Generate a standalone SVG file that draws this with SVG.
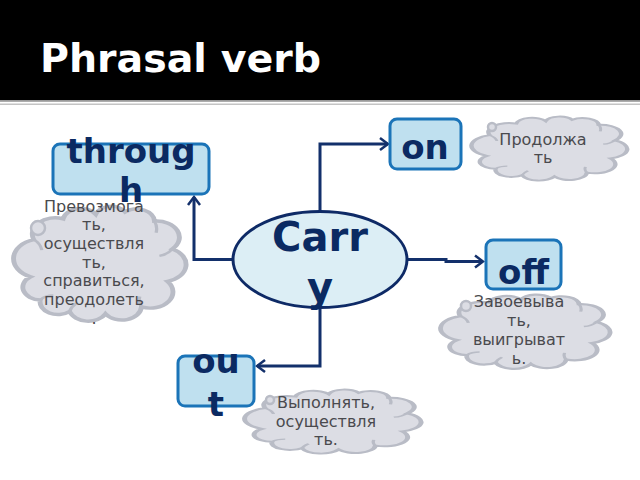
<svg xmlns="http://www.w3.org/2000/svg" width="640" height="480" viewBox="0 0 640 480">
<style>
.cloud{fill:#dcdde4;stroke:#b9bcc6;stroke-width:3;vector-effect:non-scaling-stroke}
.crease{fill:none;stroke:#b9bcc6;stroke-width:2;vector-effect:non-scaling-stroke}
.bub{fill:#dcdde4;stroke:#b9bcc6;stroke-width:2.5}
.ct{font-family:"DejaVu Sans",sans-serif;font-size:16px;fill:#4a4a4e;text-anchor:middle}
.box{fill:#bfe0ef;stroke:#1b74b8;stroke-width:3}
.bt{font-family:"DejaVu Sans",sans-serif;font-weight:bold;font-size:34px;fill:#0b2a62;text-anchor:middle}
.con{fill:none;stroke:#13306b;stroke-width:3}
</style>
<defs>
<path id="cl" d="M8,62 A17,17 0 0 1 10,30 A14,14 0 0 1 28,12 A11,11 0 0 1 48,8 A10,10 0 0 1 66,6 A11,11 0 0 1 84,14 A14,14 0 0 1 95,38 A15,15 0 0 1 92,66 A14,14 0 0 1 76,88 A12,12 0 0 1 54,94 A12,12 0 0 1 32,92 A11,11 0 0 1 14,82 A11,11 0 0 1 8,62 Z"/>
<path id="cr" d="M10,30 Q14,33 15,39 M84,14 Q86,19 85,24 M95,38 Q92,43 87,44 M76,88 Q74,84 75,79 M32,92 Q33,88 36,85 M14,82 Q17,78 22,78"/>
<marker id="arr" viewBox="-10 -8 12 16" refX="0" refY="0" markerWidth="12" markerHeight="16" markerUnits="userSpaceOnUse" orient="auto">
<path d="M-8,-6 L0,0 L-8,6" fill="none" stroke="#13306b" stroke-width="2.5"/>
</marker>
</defs>
<rect x="0" y="0" width="640" height="100" fill="#000"/>
<rect x="0" y="100" width="640" height="1.8" fill="#9a9a9a"/>
<rect x="0" y="103.5" width="640" height="1.5" fill="#c4c4c4"/>
<text x="40" y="72" font-family="DejaVu Sans, sans-serif" font-weight="bold" font-size="39.5" fill="#fff">Phrasal verb</text>

<g id="connectors">
<path class="con" d="M320,212 V144 H388" marker-end="url(#arr)"/>
<path class="con" d="M233,259.5 H194 V197" marker-end="url(#arr)"/>
<path class="con" d="M407,259.5 H446 V261.5 H483" marker-end="url(#arr)"/>
<path class="con" d="M320,307 V366 H257" marker-end="url(#arr)"/>
</g>

<g id="cloud-through">
<use href="#cl" class="cloud" transform="translate(17.4,204.9) scale(1.632,1.159)"/>
<use href="#cr" class="crease" transform="translate(17.4,204.9) scale(1.632,1.159)"/>
<circle class="bub" cx="38" cy="228" r="7"/>
<text class="ct"><tspan x="94" y="211.7">Превозмога</tspan><tspan x="94" y="230.4">ть,</tspan><tspan x="94" y="249">осуществля</tspan><tspan x="94" y="267.7">ть,</tspan><tspan x="94" y="286.4">справиться,</tspan><tspan x="94" y="305">преодолеть</tspan><tspan x="94" y="323.8">.</tspan></text>
</g>

<g id="cloud-on">
<use href="#cl" class="cloud" transform="translate(474.9,115.8) scale(1.474,0.646)"/>
<use href="#cr" class="crease" transform="translate(474.9,115.8) scale(1.474,0.646)"/>
<circle class="bub" cx="492" cy="127" r="4"/>
<text class="ct"><tspan x="543" y="145">Продолжа</tspan><tspan x="543" y="163">ть</tspan></text>
</g>

<g id="cloud-off">
<use href="#cl" class="cloud" transform="translate(444.3,293.65) scale(1.604,0.749)"/>
<use href="#cr" class="crease" transform="translate(444.3,293.65) scale(1.604,0.749)"/>
<circle class="bub" cx="466" cy="306" r="5"/>
<text class="ct"><tspan x="519" y="307">Завоевыва</tspan><tspan x="519" y="326">ть,</tspan><tspan x="519" y="345">выигрыват</tspan><tspan x="519" y="364">ь.</tspan></text>
</g>

<g id="cloud-out">
<use href="#cl" class="cloud" transform="translate(248.5,388.8) scale(1.670,0.646)"/>
<use href="#cr" class="crease" transform="translate(248.5,388.8) scale(1.670,0.646)"/>
<circle class="bub" cx="270" cy="400" r="4"/>
<text class="ct"><tspan x="326" y="408.3">Выполнять,</tspan><tspan x="326" y="426.7">осуществля</tspan><tspan x="326" y="445">ть.</tspan></text>
</g>

<g id="node-carry">
<ellipse cx="320" cy="259.5" rx="87" ry="48" fill="#dceef5" stroke="#0e2a66" stroke-width="3"/>
<text class="bt" style="font-size:40px"><tspan x="320" y="251">Carr</tspan><tspan x="320" y="301">y</tspan></text>
</g>

<g id="node-through">
<rect class="box" x="53" y="144" width="156" height="50" rx="7"/>
<text class="bt"><tspan x="131" y="163">throug</tspan><tspan x="131" y="202">h</tspan></text>
</g>

<g id="node-on">
<rect class="box" x="390" y="119" width="71" height="50" rx="7"/>
<text class="bt"><tspan x="425" y="158.5">on</tspan></text>
</g>

<g id="node-off">
<rect class="box" x="486" y="240" width="75" height="49" rx="7"/>
<text class="bt"><tspan x="523.5" y="284">off</tspan></text>
</g>

<g id="node-out">
<rect class="box" x="178" y="356" width="76" height="50" rx="7"/>
<text class="bt"><tspan x="216" y="373">ou</tspan><tspan x="216" y="416">t</tspan></text>
</g>
</svg>
